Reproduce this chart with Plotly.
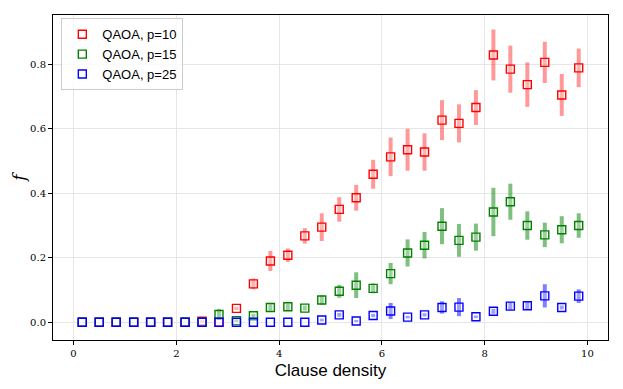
import plotly.graph_objects as go

# clause density values (30 points)
density = [0.17, 0.5, 0.83, 1.17, 1.5, 1.83, 2.17, 2.5, 2.83, 3.17,
           3.5, 3.83, 4.17, 4.5, 4.83, 5.17, 5.5, 5.83, 6.17, 6.5,
           6.83, 7.17, 7.5, 7.83, 8.17, 8.5, 8.83, 9.17, 9.5, 9.83]

f_p10 = [0.0, 0.0, 0.0, 0.0, 0.0, 0.0, 0.0, 0.003, 0.0, 0.043,
         0.119, 0.19, 0.208, 0.268, 0.295, 0.35, 0.386, 0.459, 0.513, 0.535,
         0.528, 0.627, 0.617, 0.666, 0.829, 0.785, 0.737, 0.806, 0.705, 0.789]
err_p10 = [0.0, 0.0, 0.0, 0.0, 0.0, 0.0, 0.0, 0.003, 0.0, 0.005,
           0.017, 0.031, 0.021, 0.024, 0.043, 0.038, 0.04, 0.045, 0.06, 0.065,
           0.058, 0.062, 0.059, 0.054, 0.079, 0.073, 0.069, 0.064, 0.065, 0.06]

f_p15 = [0.0, 0.0, 0.0, 0.0, 0.0, 0.0, 0.0, 0.0, 0.024, 0.005,
         0.02, 0.046, 0.048, 0.044, 0.069, 0.096, 0.115, 0.105, 0.151, 0.215,
         0.239, 0.298, 0.254, 0.264, 0.342, 0.374, 0.3, 0.271, 0.287, 0.3]
err_p15 = [0.0, 0.0, 0.0, 0.0, 0.0, 0.0, 0.0, 0.0, 0.017, 0.004,
           0.006, 0.01, 0.01, 0.008, 0.014, 0.02, 0.04, 0.015, 0.033, 0.042,
           0.041, 0.056, 0.051, 0.042, 0.075, 0.056, 0.044, 0.038, 0.042, 0.038]

f_p25 = [0.0, 0.0, 0.0, 0.0, 0.0, 0.0, 0.0, 0.0, 0.0, 0.0,
         0.0, 0.0, 0.0, 0.0, 0.007, 0.023, 0.004, 0.021, 0.035, 0.016,
         0.023, 0.046, 0.047, 0.017, 0.034, 0.05, 0.051, 0.082, 0.046, 0.081]
err_p25 = [0.0, 0.0, 0.0, 0.0, 0.0, 0.0, 0.0, 0.0, 0.0, 0.0,
           0.0, 0.0, 0.0, 0.0, 0.004, 0.006, 0.003, 0.005, 0.025, 0.004,
           0.005, 0.019, 0.028, 0.004, 0.008, 0.012, 0.012, 0.036, 0.006, 0.021]

series = [
    ("QAOA, p=10", f_p10, err_p10, "#ff0000", "rgba(255,0,0,0.4)"),
    ("QAOA, p=15", f_p15, err_p15, "#008000", "rgba(0,128,0,0.5)"),
    ("QAOA, p=25", f_p25, err_p25, "#0000ff", "rgba(0,0,255,0.5)"),
]

fig = go.Figure()
for name, vals, errs, col, ecol in series:
    fig.add_trace(go.Scatter(
        x=density, y=vals, name=name, mode="markers",
        marker=dict(symbol="square", size=8, color="rgba(255,255,255,0.25)",
                    line=dict(color=col, width=1.4)),
        error_y=dict(type="data", array=errs, visible=True, color=ecol,
                     thickness=4, width=0),
    ))

serif = "DejaVu Serif"
# page body has an 8px margin, so the figure is sized to fit inside it
fig.update_layout(
    width=607, height=373,
    margin=dict(l=45, r=7, t=7, b=41),
    plot_bgcolor="white", paper_bgcolor="white",
    font=dict(family="Liberation Sans", color="black"),
    showlegend=True,
    legend=dict(x=0.015, y=0.99, xanchor="left", yanchor="top",
                bgcolor="rgba(255,255,255,0.8)", bordercolor="#cccccc",
                borderwidth=1, tracegroupgap=0,
                font=dict(size=13, family="Liberation Sans")),
)
fig.update_xaxes(
    range=[-0.4, 10.4], tickvals=[0, 2, 4, 6, 8, 10], automargin=False,
    showgrid=True, gridcolor="#e6e6e6", gridwidth=1,
    showline=True, linecolor="black", linewidth=1, mirror=True,
    ticks="outside", ticklen=4, tickcolor="black",
    tickfont=dict(family=serif, size=10),
    zeroline=False,
    title=dict(text="Clause density", font=dict(size=17, family="Liberation Sans"), standoff=6),
)
fig.update_yaxes(
    range=[-0.055, 0.953], tickvals=[0, 0.2, 0.4, 0.6, 0.8], tickformat=".1f",
    automargin=False,
    showgrid=True, gridcolor="#e6e6e6", gridwidth=1,
    showline=True, linecolor="black", linewidth=1, mirror=True,
    ticks="outside", ticklen=4, tickcolor="black",
    tickfont=dict(family=serif, size=10),
    zeroline=False,
    title=dict(text="<i>f</i>", font=dict(size=17, family=serif), standoff=0),
)

fig.write_html("out.html")
